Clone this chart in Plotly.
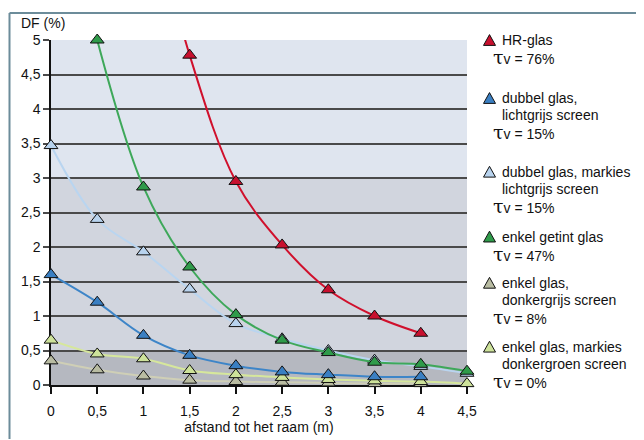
import plotly.graph_objects as go

# ---- data ----
x_vals = [0, 0.5, 1, 1.5, 2, 2.5, 3, 3.5, 4, 4.5]
x_tick_labels = ["0", "0,5", "1", "1,5", "2", "2,5", "3", "3,5", "4", "4,5"]
y_tick_vals = [0, 0.5, 1, 1.5, 2, 2.5, 3, 3.5, 4, 4.5, 5]
y_tick_labels = ["0", "0,5", "1", "1,5", "2", "2,5", "3", "3,5", "4", "4,5", "5"]

hr_x = [1, 1.5, 2, 2.5, 3, 3.5, 4]
hr_y = [7.4, 4.78, 2.95, 2.03, 1.38, 1.0, 0.75]

dubbel_x = [0, 0.5, 1, 1.5, 2, 2.5, 3, 3.5, 4]
dubbel_y = [1.6, 1.2, 0.72, 0.43, 0.28, 0.19, 0.15, 0.12, 0.12]

markies_x = [0, 0.5, 1, 1.5, 2, 2.5, 3, 3.5, 4, 4.5]
markies_y = [3.47, 2.4, 1.93, 1.39, 0.89, 0.67, 0.5, 0.36, 0.27, 0.17]

getint_x = [0.5, 1, 1.5, 2, 2.5, 3, 3.5, 4, 4.5]
getint_y = [5.0, 2.87, 1.71, 1.02, 0.65, 0.47, 0.33, 0.30, 0.20]

donker_x = [0, 0.5, 1, 1.5, 2, 2.5, 3, 3.5, 4]
donker_y = [0.35, 0.22, 0.13, 0.07, 0.05, 0.04, 0.03, 0.02, 0.02]

groen_x = [0, 0.5, 1, 1.5, 2, 2.5, 3, 3.5, 4, 4.5]
groen_y = [0.65, 0.45, 0.38, 0.21, 0.15, 0.11, 0.08, 0.06, 0.05, 0.02]

series = [
    # name, x, y, line color, marker color
    ("enkel glas, donkergrijs screen", donker_x, donker_y, "#cfcfb6", "#b9bca2"),
    ("enkel glas, markies donkergroen screen", groen_x, groen_y, "#d6e79c", "#cde29a"),
    ("dubbel glas, markies lichtgrijs screen", markies_x, markies_y, "#b9d5f0", "#b8d3ee"),
    ("dubbel glas, lichtgrijs screen", dubbel_x, dubbel_y, "#3d85c8", "#3a7fc2"),
    ("enkel getint glas", getint_x, getint_y, "#3ea85a", "#2f9b4a"),
    ("HR-glas", hr_x, hr_y, "#d0102c", "#c8102e"),
]

legend_entries = [
    # (first-line y px, lines, tau line, marker color)
    (40, ["HR-glas"], "τv = 76%", "#c8102e"),
    (99, ["dubbel glas,", "lichtgrijs screen"], "τv = 15%", "#3a7fc2"),
    (174, ["dubbel glas, markies", "lichtgrijs screen"], "τv = 15%", "#b8d3ee"),
    (240, ["enkel getint glas"], "τv = 47%", "#2f9b4a"),
    (287, ["enkel glas,", "donkergrijs screen"], "τv = 8%", "#b9bca2"),
    (352, ["enkel glas, markies", "donkergroen screen"], "τv = 0%", "#cde29a"),
]

# page body has an 8px margin, so the figure is drawn 8px in and 8px down
OFF = 8
W, H = 644 - OFF, 440 - OFF
ML, MT = 51 - OFF, 40 - OFF
MR = W - (467 - OFF)
MB = H - (391 - OFF)
PW, PH = W - ML - MR, H - MT - MB
FONT = "Liberation Sans, Arial, sans-serif"


def px(xp):
    return (xp - OFF - ML) / PW


def py(yp):
    return (H - MB - (yp - OFF)) / PH


fig = go.Figure()
for name, xs, ys, lc, mc in series:
    fig.add_trace(go.Scatter(
        x=xs, y=ys, name=name, mode="lines+markers",
        line=dict(color=lc, width=2, shape="spline", smoothing=1),
        marker=dict(symbol="triangle-up", size=12, color=mc,
                    line=dict(color="#111111", width=1)),
        cliponaxis=False, showlegend=False,
    ))

shapes = []
for y0, y1, col in [(0, 0.5, "#b5b8c0"), (0.5, 3, "#d1d5de"), (3, 5, "#dfe5ef")]:
    shapes.append(dict(type="rect", xref="paper", yref="y", x0=0, x1=1, y0=y0, y1=y1,
                       fillcolor=col, line=dict(width=0), layer="below"))
fx0, fy0 = px(9.5), py(12.5)
shapes.append(dict(type="line", xref="paper", yref="paper", x0=fx0, x1=px(650), y0=fy0, y1=fy0,
                   line=dict(color="#6c8c9a", width=2)))
shapes.append(dict(type="line", xref="paper", yref="paper", x0=fx0, x1=fx0, y0=fy0, y1=py(446),
                   line=dict(color="#6c8c9a", width=2)))

annotations = []
annotations.append(dict(text="DF (%)", xref="paper", yref="paper", x=px(19), y=py(23),
                        xanchor="left", yanchor="middle", showarrow=False,
                        font=dict(family=FONT, size=14, color="#111")))
LH = 17.5
for y0, lines, tau, col in legend_entries:
    cx, cy, hw, hh = 489.5, y0, 6, 5.5
    path = "M {} {} L {} {} L {} {} Z".format(px(cx - hw), py(cy + hh), px(cx + hw), py(cy + hh),
                                              px(cx), py(cy - hh))
    shapes.append(dict(type="path", xref="paper", yref="paper", path=path,
                       fillcolor=col, line=dict(color="#111", width=1)))
    for i, t in enumerate(lines):
        annotations.append(dict(text=t, xref="paper", yref="paper", x=px(500), y=py(y0 + i * LH),
                                xanchor="left", yanchor="middle", showarrow=False,
                                font=dict(family=FONT, size=14, color="#111")))
    ty = y0 + len(lines) * LH
    annotations.append(dict(text="<span style='font-size:19px;font-family:DejaVu Serif'>τ</span>" + tau[1:],
                            xref="paper", yref="paper", x=px(491), y=py(ty),
                            xanchor="left", yanchor="middle", showarrow=False,
                            font=dict(family=FONT, size=14, color="#111")))

fig.update_layout(
    width=W, height=H,
    margin=dict(l=ML, r=MR, t=MT, b=MB),
    paper_bgcolor="white", plot_bgcolor="rgba(0,0,0,0)",
    font=dict(family=FONT, size=14, color="#111"),
    shapes=shapes, annotations=annotations,
    xaxis=dict(range=[0, 4.5], tickvals=x_vals, ticktext=x_tick_labels,
               showgrid=False, zeroline=False, showline=True, linecolor="#111", linewidth=1.5,
               ticks="outside", ticklen=7, tickwidth=1.5, tickcolor="#111",
               ticklabelstandoff=5,
               title=dict(text="afstand tot het raam (m)", standoff=0, font=dict(size=14)),
               layer="below traces"),
    yaxis=dict(range=[0, 5], tickvals=y_tick_vals, ticktext=y_tick_labels,
               showgrid=True, gridcolor="#4a4a4a", gridwidth=1.5, zeroline=False,
               showline=True, linecolor="#111", linewidth=1.5,
               ticks="outside", ticklen=6, tickwidth=1.5, tickcolor="#4a4a4a",
               layer="below traces"),
)

fig.write_html("out.html")
